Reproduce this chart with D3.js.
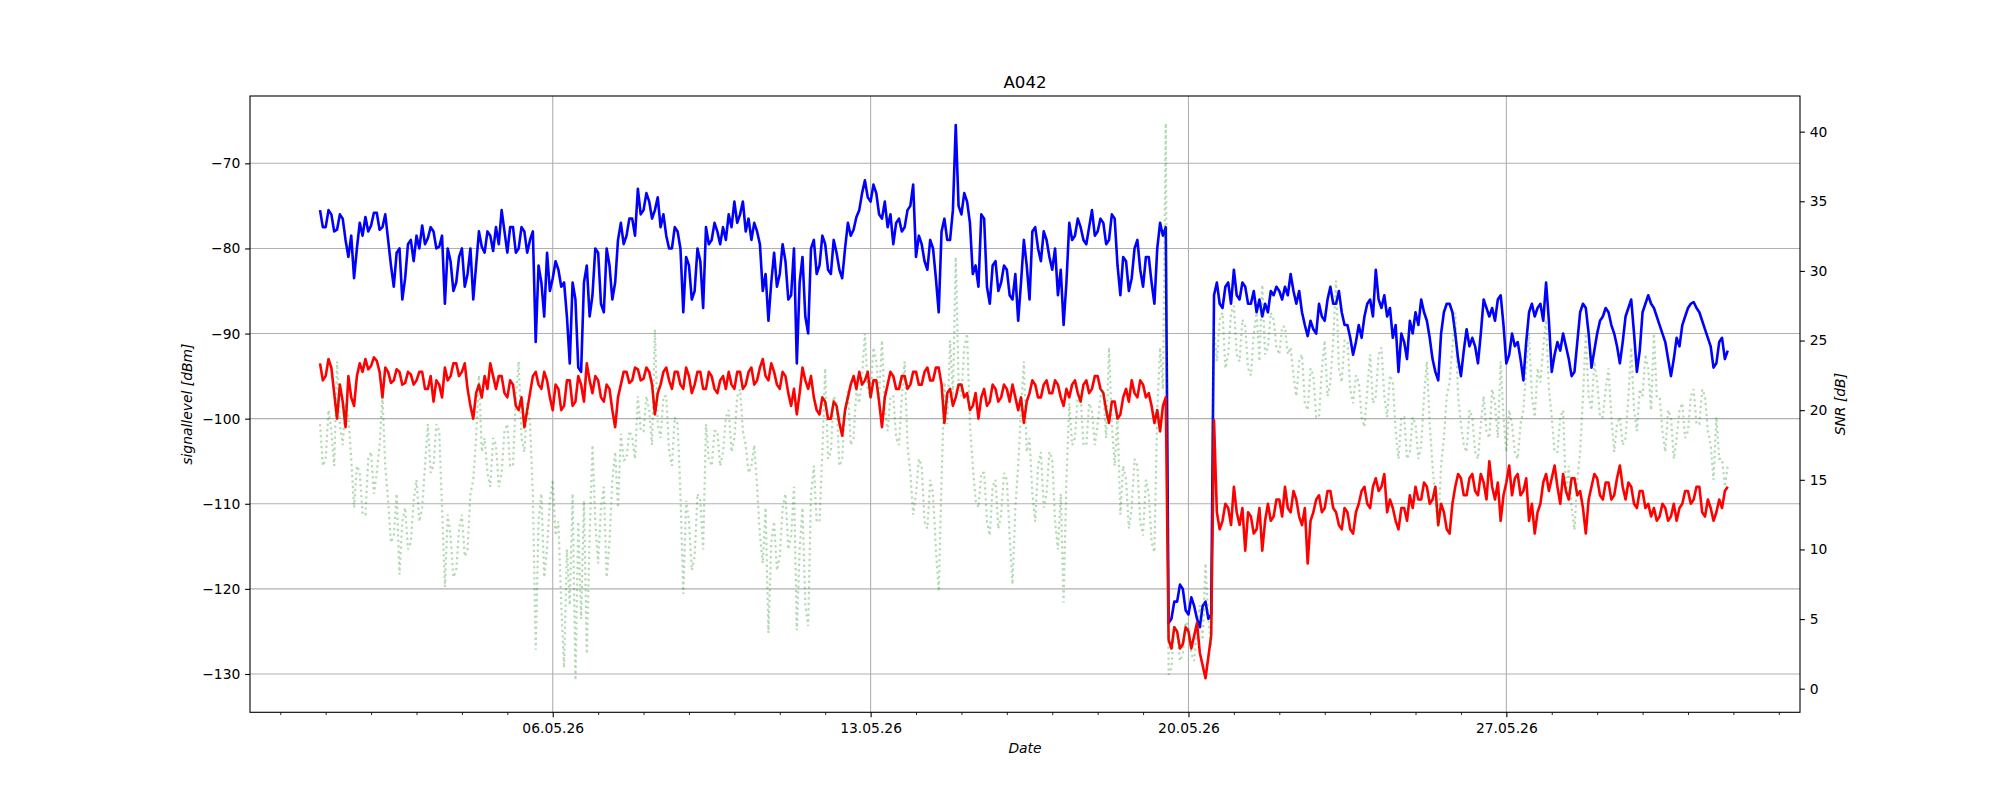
<!DOCTYPE html>
<html>
<head>
<meta charset="utf-8">
<script src="https://cdn.jsdelivr.net/npm/d3@7"></script>
<style>
  body { margin: 0; background: #ffffff; }
  text { font-family: "DejaVu Sans", sans-serif; fill: #000; }
</style>
</head>
<body>
<svg id="chart" width="2000" height="800"></svg>
<script>
// ---------------- data ----------------
const chartTitle = "A042";
const xLabel = "Date";
const yLeftLabel = "signallevel [dBm]";
const yRightLabel = "SNR [dB]";

// samples every 1.5 hours, first sample 30.04.26 21:00
const startTime = new Date(2026, 3, 30, 21, 0);
const stepHours = 1.5;

// blue: signal level [dBm] (left axis)
const signalLevel = [
  -75.5,-77.5,-77.5,-75.5,-76,-78,-77.8,-76,-76.5,-79,
  -81,-78.5,-83.5,-80,-77,-78.5,-76.3,-78,-77.3,-75.8,
  -75.8,-77.8,-77.5,-76,-79,-82,-84.5,-80.5,-80,-86,
  -83.5,-79.5,-79,-81.5,-78.5,-80,-77.3,-79.5,-78.8,-77.5,
  -78,-80,-79.8,-78.5,-86.5,-80,-81.5,-85,-84,-81,
  -80,-84.5,-83,-80,-86,-82,-78,-79.8,-80.5,-78,
  -78.5,-80.3,-77.5,-79.5,-75.5,-78,-80.5,-77.5,-77.5,-80.5,
  -80,-77.5,-78,-80.5,-79,-78,-91,-82,-84,-88,
  -80.5,-85,-83.5,-81.5,-82.5,-84.5,-84,-88,-93.5,-84,
  -86,-94,-94.5,-84,-82,-88,-85.5,-80,-80.5,-86.5,
  -87.5,-80,-82,-86,-84,-79,-77,-79.5,-78.5,-76.5,
  -76.5,-78.5,-73,-76,-75.5,-73.5,-74.5,-76.5,-75.5,-74,
  -77.5,-76,-78.5,-80,-80,-77.5,-78,-80,-87.5,-81,
  -82,-86,-85,-80,-81.5,-87,-77.5,-79.5,-79,-77,
  -78,-79.5,-77.5,-79,-76,-77.5,-74.5,-77,-76,-74.5,
  -78,-76.5,-79,-77,-78,-79.5,-85,-83,-88.5,-84,
  -80.5,-84.5,-83,-79.5,-81.5,-86,-85.5,-80,-93.5,-84,
  -81,-88,-90,-80,-79,-83,-82,-78.5,-79.5,-82.5,
  -83,-79,-80.5,-82.5,-83.5,-80,-77,-78.5,-77.8,-76.3,
  -75.5,-73.5,-72,-74,-74.5,-72.5,-73.5,-76,-76.5,-74.5,
  -77.5,-76,-79.5,-77,-76.5,-78,-77.5,-75.5,-75,-72.5,
  -81,-78.5,-79.5,-81.5,-82.5,-79,-80,-83.5,-87.5,-78,
  -76.5,-79,-79,-75.5,-65.5,-75,-76,-73.5,-74.5,-77,
  -83,-82,-84.5,-76,-76.5,-84.5,-86.5,-82,-81.5,-85,
  -84,-82,-82.5,-85.5,-86,-83,-88.5,-84,-79,-82,
  -86,-78,-77.5,-80,-81.5,-78,-79,-81,-82.5,-80,
  -85.5,-82.5,-89,-84,-77,-79,-78.5,-76.5,-77.5,-79,
  -79.5,-77.5,-75.5,-78.5,-78,-76.5,-77,-79.5,-79,-76,
  -76.5,-82,-85.5,-81,-81.5,-85,-83.5,-80,-79,-82.5,
  -84.5,-81,-81,-84,-86.5,-80,-77,-78.5,-77.5,-124,
  -123.5,-121.5,-121.5,-119.5,-120,-122.5,-123,-121,-122,-123.5,
  -124.5,-122,-121.5,-123.5,-123,-85.5,-84,-86.5,-87,-84.5,
  -84,-86.5,-82.5,-85.5,-86,-84,-84.5,-86.5,-86.5,-85,
  -87.5,-86,-88,-86.5,-87.5,-85,-85.5,-84.5,-85,-86,
  -84.5,-85.5,-83,-85,-86.5,-85,-87.5,-89,-90.3,-88.5,
  -89.5,-90,-86.5,-88,-88.5,-86,-84.5,-86.5,-86.5,-85,
  -87.5,-89,-89,-90.5,-92.5,-91,-89,-90.5,-88,-86.5,
  -86,-88,-82.5,-86,-87,-85.5,-88,-87,-90.5,-89,
  -94.5,-90,-91,-93,-88.5,-90,-87.5,-89,-86,-87.5,
  -88.5,-90.5,-93,-94.5,-95.5,-90,-87.5,-86.5,-86.5,-87.5,
  -90,-93,-95,-92,-89.5,-91.5,-90.5,-91.5,-93.5,-90,
  -86,-87,-88,-87,-88.5,-86,-85.5,-89,-93.5,-92.5,
  -90,-91.5,-91,-93,-95.5,-91,-87.5,-86.5,-88,-87,
  -86.5,-88.5,-84,-88.5,-94.5,-92.5,-91,-92,-90,-91.5,
  -93,-95,-94.5,-91,-87.5,-86.5,-87,-90,-94,-92,
  -90,-88.5,-88,-87,-87.5,-89,-90,-91.5,-93.5,-91,
  -88,-87,-86,-90,-94.5,-92,-87.5,-86.5,-85.5,-86.5,
  -87,-88,-89,-90,-91,-93,-95,-93,-90.5,-91.5,
  -89,-88,-87,-86.5,-86.3,-87,-87.5,-88.5,-89.5,-90.5,
  -91.5,-94,-93.5,-91,-90.5,-93,-92
];

// red: second level [dBm] (left axis)
const secondLevel = [
  -93.5,-95.5,-95,-93,-94,-97,-100,-96,-98,-101,
  -95,-97.5,-98.5,-95,-93.5,-94.5,-93,-94.2,-93.8,-92.8,
  -93.2,-94.5,-97.5,-94,-94.5,-95.8,-95.5,-94.2,-94.5,-96,
  -95.8,-94.5,-94.8,-96,-95.5,-94.5,-94.5,-96.5,-96.5,-95,
  -98,-95.5,-96,-97.5,-94,-95.5,-95,-93.5,-93.5,-95,
  -94.5,-93.5,-96.5,-98.5,-100,-97,-96,-97.5,-95,-96.5,
  -93.5,-95,-96.5,-95,-95,-97,-97.5,-95.5,-96,-98.5,
  -99,-97.5,-101,-99,-97,-95,-94.5,-96,-96.5,-94.5,
  -95.5,-97.5,-99,-96,-96.5,-99,-98.5,-95.5,-95.5,-98.5,
  -98,-95,-96,-98,-93.5,-95.5,-97,-95,-95.5,-97.5,
  -98,-96,-96.5,-99,-101,-97.5,-96,-94.5,-94.5,-95.8,
  -95.5,-94,-94.2,-95.5,-95.3,-94,-94.5,-96,-99.5,-97,
  -96,-94.5,-94,-95.5,-96.5,-94.5,-94.5,-96,-96.5,-94,
  -95,-97,-96,-94.5,-94.5,-96.5,-96.5,-94.5,-95,-96.5,
  -97,-95.5,-95,-96.5,-94.5,-96,-96.5,-94.5,-94.5,-96.5,
  -96,-94.5,-94,-96,-95.5,-94,-93,-95,-95.5,-93.5,
  -94.5,-96,-96.5,-94.5,-95,-97,-98.5,-96.5,-99.5,-97,
  -94,-95.5,-96.5,-95,-97.5,-99,-99.5,-97.5,-98,-100,
  -100,-98,-98.5,-100.5,-102,-99,-97.5,-96,-95,-96.5,
  -94.5,-96,-95.5,-94.5,-97.5,-95.5,-95.5,-98,-101,-97.5,
  -96,-94.5,-95,-96.5,-96.5,-95,-95,-96.5,-96,-94.5,
  -94.5,-96,-96,-94.5,-94,-95.5,-95.5,-94,-94,-96,
  -100.5,-97,-96.5,-98.5,-97.5,-96,-96,-97.5,-97,-99,
  -98.5,-97,-100,-97.5,-96.5,-98.5,-98,-96,-96.5,-98,
  -97.5,-96,-96.5,-98,-96,-97.5,-99,-97.5,-100.5,-98,
  -97,-95.5,-96,-97.5,-97.5,-96,-95.5,-97,-97,-95.5,
  -96,-97.5,-98.5,-96.5,-97.5,-96,-95.5,-97,-98,-96,
  -95.5,-97,-96.5,-95,-95,-96.5,-97,-99,-100.5,-98,
  -98,-100,-99.5,-97.5,-96.5,-98,-95.5,-97,-97.5,-95.5,
  -96,-97.5,-97,-98.5,-100.5,-99,-101.5,-98.5,-97.5,-126,
  -127,-124.5,-125,-127,-126.5,-124.5,-125,-127,-125.5,-124,
  -127.5,-129,-130.5,-128,-125.5,-100.2,-111,-113,-112,-110,
  -110.5,-112.5,-108,-111,-112.5,-110.5,-115.5,-111,-111.5,-113.5,
  -113,-110.5,-115.5,-112,-110,-112,-111.5,-109.5,-109.5,-111.5,
  -108,-110.5,-111,-108.5,-109.5,-111.5,-112.5,-110.5,-117,-112,
  -111,-109.5,-109,-111,-110.5,-108.5,-108.5,-110.5,-111,-112.5,
  -113,-110.5,-111,-113,-113.5,-111,-110,-108.5,-108,-110,
  -110.5,-108,-107,-108.5,-108,-106.5,-111,-109.5,-110.5,-112,
  -113,-110.5,-110.5,-112,-109,-110.5,-108,-109.5,-109.5,-107.5,
  -108,-110,-109.5,-108,-112.5,-110,-111,-113,-113.5,-110,
  -108,-106.5,-107,-109,-109,-107,-106.5,-108.5,-109,-106.5,
  -107.5,-109.5,-105,-108,-109.5,-107.5,-112,-109,-107.5,-105.5,
  -109,-107,-106.5,-109,-108.5,-107,-112,-110,-113.5,-111,
  -110,-107.5,-106.5,-108.5,-107,-105.5,-108,-110,-106.5,-108.5,
  -109.5,-107,-107,-109,-108.5,-110.5,-113.5,-109.5,-108,-106.5,
  -107,-109,-109.5,-107.5,-107.5,-109.5,-109,-107,-105.5,-108,
  -109.5,-107.5,-108,-110,-110.5,-108.5,-108.5,-110.5,-110,-111.5,
  -110.5,-112,-111.5,-110,-110.5,-112,-111.5,-110,-112,-110.5,
  -110,-108.5,-108.5,-110,-109.5,-108,-108,-111,-111.5,-109.5,
  -110.5,-112,-111,-109.5,-110.5,-108.5,-108
];

// green dotted: SNR [dB] (right axis)
const snr = [
  19,16,16.5,20,18.5,16,23.5,19,17.5,20.5,
  19.5,16.5,13,16,15.5,12.5,12.5,16.5,17,14,
  15.5,17.5,21,16,13.5,10.5,11,14,8.2,12,
  13,10,10.5,13.5,15,12,13,16,19,15.5,
  16,19,18.5,13,7.3,12.5,11,8,8.5,11.5,
  12.5,9.5,10,14,15,18,22.5,17,18,15.5,
  14.5,18,17.5,14.5,15.5,18.5,19,16,16,21,
  23.5,18,17,20.5,19,14,2.8,12,14,8,
  10,13.5,15,11,12,6,1.5,10,6,14,
  0.6,12,5,13.5,2.5,11,17.5,12,9,13,
  14.5,8,10.5,15,17,13,18.3,16.4,16.5,18.5,
  18,16.5,21,18.5,18.5,21,20,17.5,25.8,19,
  18,21,21,17,16,19.5,19,14,6.8,13.5,
  12,8.5,9.5,14,13.5,10,19,16.5,16,18.5,
  18.5,16,17,19.5,20,17,18,21,21.5,18.5,
  17.5,15.5,16,17.5,14.5,11,9,13,4,10.5,
  12,8.5,9.5,13,14,10,11,14.5,4.2,10,
  13,6,4.5,14,16,12,12,17,23,16.5,
  17,21,20.5,16,16.5,20,21.5,17.5,18,21.5,
  20.5,22.5,25.5,21.5,21,24.5,23.5,21,25,20,
  18.5,21,21,18,17.5,21,23.5,17.5,15.5,12.5,
  14,16.5,16,12,11.5,15,14,10,7,15,
  22,19,25,21,31,22,21,24.5,25.5,19,
  16,13.5,13,15.5,15.5,12,11,14.5,15,11.5,
  12.5,15.5,15,11,7.5,13,16,20,23.5,17,
  18,14,12,16,17,13,14,17,16.5,12,
  10,14,6.2,15,20.5,17.5,18,21,21,17.5,
  17.5,20.5,20,17.5,19,21,21.5,18,24.5,19,
  16,19.5,12.5,16,15,11.5,13,16.5,16,12,
  11,15,14,10.5,9.8,20,24.5,21.5,40.6,1,
  1.5,4.5,4,2,2.5,4.8,4.5,2.5,2,4.5,
  6,3.5,9,5,3,26,23.5,26.5,27,23,
  24,27,27.5,24,23.5,26.5,26,23,22.5,25.5,
  27,23.5,29,24,24.5,27,26.5,24.5,24,26,
  26,24,24.5,22.5,21,23.5,24,20.5,20,23,
  22.5,19.5,19.5,23,25,21,22,25,29.3,23,
  22,25,25,21.5,20.5,22.5,22,19.5,18.8,21.5,
  24,20.5,21,24,24.5,21,19.5,22.5,22,18.5,
  16.5,19.5,19.5,16.5,17,19.5,19,16.5,17.5,21,
  23.5,19,16,13.5,11.6,16,18,21,22,24.5,
  27,21,19,17.5,17,20,19.5,17,16.5,19,
  21,18.5,18,21.5,20.5,18,23.5,19.5,17,20,
  19,17,16.5,19,20,23,25.5,21,19.5,23,
  22,24.5,26.5,21.5,19.5,17,17,19.5,20,14,
  16,13,11.4,15,17,21,25.5,21,20,23.5,
  22,19.5,19.5,21.5,23,19.5,17,19,19.5,17.5,
  18,21,24.5,20,18.5,21.5,21,24,23,20,
  25.5,21,21,18.5,17,20,19.5,16.5,18,20,
  20.5,18,18.5,21,21.5,19,19,21.5,21,18.5,
  17.5,15,19.5,16.5,16.5,14.5,16
];

const xTickLabels = ["06.05.26", "13.05.26", "20.05.26", "27.05.26"];
const leftTicks = [-70, -80, -90, -100, -110, -120, -130];
const rightTicks = [0, 5, 10, 15, 20, 25, 30, 35, 40];

// ---------------- layout ----------------
const box = { left: 250, right: 1800, top: 96, bottom: 712.3 };
const fontPx = 13.89;
const majorLen = 4.86, minorLen = 2.78;

const svg = d3.select("#chart");
svg.append("rect").attr("width", 2000).attr("height", 800).attr("fill", "#fff");

const parseLabel = d3.timeParse("%d.%m.%y");
const xMajor = xTickLabels.map(parseLabel);
const xStart = new Date(2026, 3, 29, 8, 0);
const xEnd = new Date(2026, 5, 2, 11, 12);
const x = d3.scaleTime().domain([xStart, xEnd]).range([box.left, box.right]);
const yL = d3.scaleLinear().domain([-134.5, -62.09]).range([box.bottom, box.top]);
const yR = d3.scaleLinear().domain([-1.695, 42.56]).range([box.bottom, box.top]);

const timeAt = i => new Date(startTime.getTime() + i * stepHours * 3600 * 1000);

// grid
const grid = svg.append("g").attr("stroke", "#b0b0b0").attr("stroke-width", 1.1);
grid.selectAll("line.h").data(leftTicks).join("line")
  .attr("x1", box.left).attr("x2", box.right)
  .attr("y1", d => yL(d)).attr("y2", d => yL(d));
grid.selectAll("line.v").data(xMajor).join("line")
  .attr("y1", box.top).attr("y2", box.bottom)
  .attr("x1", d => x(d)).attr("x2", d => x(d));

// series
const lineL = d3.line().x((d, i) => x(timeAt(i))).y(d => yL(d));
const lineR = d3.line().x((d, i) => x(timeAt(i))).y(d => yR(d));

svg.append("path").datum(signalLevel).attr("d", lineL)
  .attr("fill", "none").attr("stroke", "#0000ff").attr("stroke-width", 2.6)
  .attr("stroke-linejoin", "round");
svg.append("path").datum(secondLevel).attr("d", lineL)
  .attr("fill", "none").attr("stroke", "#ff0000").attr("stroke-width", 2.6)
  .attr("stroke-linejoin", "round");
svg.append("path").datum(snr).attr("d", lineR)
  .attr("fill", "none").attr("stroke", "#008000").attr("stroke-opacity", 0.3)
  .attr("stroke-width", 2.2).attr("stroke-dasharray", "2.2,3.3");

// spines
svg.append("rect").attr("x", box.left).attr("y", box.top)
  .attr("width", box.right - box.left).attr("height", box.bottom - box.top)
  .attr("fill", "none").attr("stroke", "#000").attr("stroke-width", 1.1);

// axes
const fmt = d3.format("d");
const gL = svg.append("g").attr("transform", `translate(${box.left},0)`)
  .call(d3.axisLeft(yL).tickValues(leftTicks).tickFormat(fmt).tickSize(majorLen).tickPadding(4.86));
const gR = svg.append("g").attr("transform", `translate(${box.right},0)`)
  .call(d3.axisRight(yR).tickValues(rightTicks).tickFormat(fmt).tickSize(majorLen).tickPadding(4.86));
const gB = svg.append("g").attr("transform", `translate(0,${box.bottom})`)
  .call(d3.axisBottom(x).tickValues(xMajor).tickFormat((d, i) => xTickLabels[i]).tickSize(majorLen).tickPadding(6));
const minorDays = d3.timeDay.range(d3.timeDay.ceil(xStart), xEnd)
  .filter(d => !xMajor.some(m => +m === +d));
const gBm = svg.append("g").attr("transform", `translate(0,${box.bottom})`)
  .call(d3.axisBottom(x).tickValues(minorDays).tickFormat("").tickSize(minorLen));

[gL, gR, gB, gBm].forEach(g => {
  g.select(".domain").remove();
  g.selectAll(".tick line").attr("stroke", "#000").attr("stroke-width", 1.1);
  g.selectAll(".tick text").attr("font-family", "DejaVu Sans").attr("font-size", fontPx).attr("fill", "#000");
});
gBm.selectAll(".tick line").attr("stroke-width", 0.83);

// labels
svg.append("text").attr("x", (box.left + box.right) / 2).attr("y", 88)
  .attr("text-anchor", "middle").attr("font-size", 16.67).text(chartTitle);
svg.append("text").attr("x", (box.left + box.right) / 2).attr("y", 753)
  .attr("text-anchor", "middle").attr("font-size", fontPx).attr("font-style", "italic").text(xLabel);
svg.append("text").attr("transform", `translate(192,${(box.top + box.bottom) / 2}) rotate(-90)`)
  .attr("text-anchor", "middle").attr("font-size", fontPx).attr("font-style", "italic").text(yLeftLabel);
svg.append("text").attr("transform", `translate(1845,${(box.top + box.bottom) / 2}) rotate(-90)`)
  .attr("text-anchor", "middle").attr("font-size", fontPx).attr("font-style", "italic").text(yRightLabel);
</script>
</body>
</html>
